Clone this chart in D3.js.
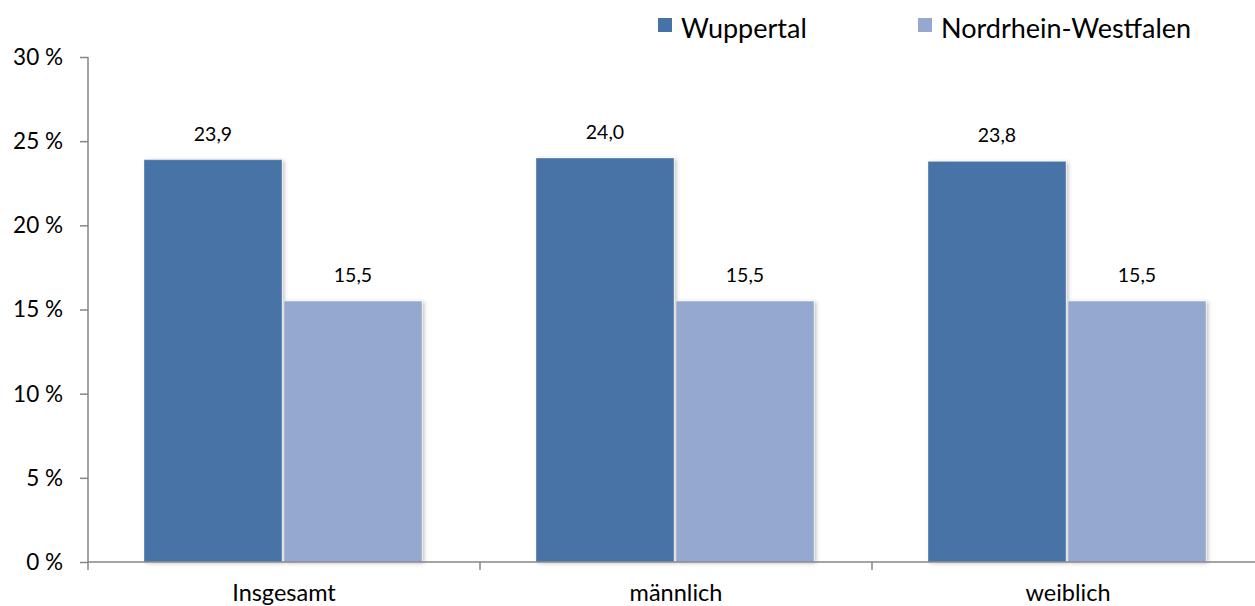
<!DOCTYPE html>
<html><head><meta charset="utf-8">
<script src="https://cdn.jsdelivr.net/npm/d3@7/dist/d3.min.js"></script>
<style>body{margin:0;background:#fff}svg{display:block}</style>
</head><body>
<svg id="c" width="1255" height="606"></svg>
<script>
const categories = ["Insgesamt", "männlich", "weiblich"];
const seriesNames = ["Wuppertal", "Nordrhein-Westfalen"];
const wuppertal = [23.9, 24.0, 23.8];
const nrw = [15.5, 15.5, 15.5];
const yTicks = [0, 5, 10, 15, 20, 25, 30];
const colors = ["#4673A7", "#95A9D0"];

const svg = d3.select("#c");
const font = "Lato, 'Open Sans', sans-serif";
const defs = svg.append("defs");
const f = defs.append("filter").attr("id","sh").attr("x","-10%").attr("y","-10%").attr("width","130%").attr("height","130%");
f.append("feGaussianBlur").attr("in","SourceAlpha").attr("stdDeviation",2).attr("result","b");
f.append("feOffset").attr("dx",2).attr("dy",1).attr("result","o");
f.append("feComponentTransfer").append("feFuncA").attr("type","linear").attr("slope",0.25);
const m = f.append("feMerge"); m.append("feMergeNode"); m.append("feMergeNode").attr("in","SourceGraphic");

const x0 = d3.scaleBand().domain(categories).range([88, 1264]).padding(0);
const x1 = d3.scaleBand().domain(seriesNames).range([55, x0.bandwidth() - 57]).padding(0);
const y = d3.scaleLinear().domain([0, 30]).range([562, 57]);

const data = categories.map((c, i) => ({c, vals: [wuppertal[i], nrw[i]]}));

const g = svg.append("g");
data.forEach(d => {
  d.vals.forEach((v, j) => {
    const s = seriesNames[j];
    const bx = x0(d.c) + x1(s);
    g.append("rect").attr("x", bx + 1).attr("y", y(v)).attr("width", x1.bandwidth() - 2)
      .attr("height", y(0) - y(v)).attr("fill", colors[j]).attr("filter","url(#sh)")
      .attr("stroke","#ffffff").attr("stroke-opacity",0.35).attr("stroke-width",1);
    g.append("text").attr("x", bx + x1.bandwidth()/2).attr("y", y(v) - 19)
      .attr("text-anchor","middle").attr("font-family",font).attr("font-size",19.5).attr("fill","#000")
      .text(v.toFixed(1).replace(".", ","));
  });
});

// y axis
const yAxis = d3.axisLeft(y).tickValues(yTicks).tickSize(8).tickFormat(d => d + " %");
const ya = svg.append("g").attr("transform","translate(88,0)").call(yAxis);
ya.select(".domain").attr("stroke","#868686").attr("stroke-width",1.5).attr("d","M0,57V562");
ya.selectAll(".tick line").attr("stroke","#868686").attr("stroke-width",1.5);
ya.selectAll(".tick text").attr("font-family",font).attr("font-size",22.5).attr("fill","#000").attr("x",-25).attr("dy","0.33em");

// x axis
const xa = svg.append("g").attr("transform","translate(0,562)");
xa.append("line").attr("x1",88).attr("x2",1255).attr("y1",0).attr("y2",0).attr("stroke","#868686").attr("stroke-width",1.5);
categories.forEach(c => {
  xa.append("line").attr("x1",x0(c)).attr("x2",x0(c)).attr("y1",0).attr("y2",8).attr("stroke","#868686").attr("stroke-width",1.5);
  xa.append("text").attr("x", x0(c) + x0.bandwidth()/2).attr("y", 39).attr("text-anchor","middle")
    .attr("font-family",font).attr("font-size",23.5).attr("fill","#000").text(c);
});

// legend
const legX = [658, 918];
seriesNames.forEach((s, j) => {
  svg.append("rect").attr("x", legX[j]).attr("y", 18).attr("width", 14).attr("height", 14).attr("fill", colors[j]);
  svg.append("text").attr("x", legX[j] + 23).attr("y", 38).attr("font-family",font).attr("font-size",27).attr("fill","#000").text(s);
});
</script>
</body></html>
